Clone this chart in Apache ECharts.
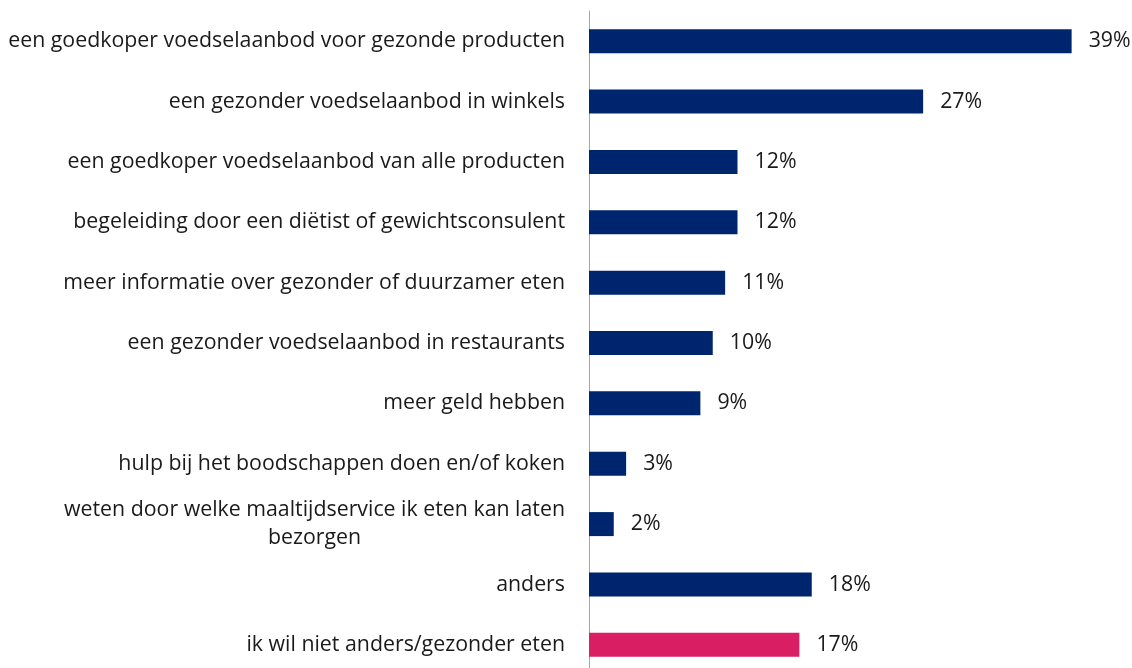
<!DOCTYPE html>
<html>
<head>
<meta charset="utf-8">
<script src="https://cdn.jsdelivr.net/npm/echarts@6/dist/echarts.min.js"></script>
<style>
  html, body { margin: 0; padding: 0; background: #ffffff; overflow: hidden; }
  /* the last row runs slightly past the bottom edge of the page */
  #chart { width: 1132px; height: 675px; }
</style>
</head>
<body>
<div id="chart"></div>
<script>
// Answers, top to bottom
const categories = [
  'een goedkoper voedselaanbod voor gezonde producten',
  'een gezonder voedselaanbod in winkels',
  'een goedkoper voedselaanbod van alle producten',
  'begeleiding door een diëtist of gewichtsconsulent',
  'meer informatie over gezonder of duurzamer eten',
  'een gezonder voedselaanbod in restaurants',
  'meer geld hebben',
  'hulp bij het boodschappen doen en/of koken',
  'weten door welke maaltijdservice ik eten kan laten\nbezorgen',
  'anders',
  'ik wil niet anders/gezonder eten'
];
// Share of respondents, percent
const values = [39, 27, 12, 12, 11, 10, 9, 3, 2, 18, 17];
// The last answer is highlighted
const highlighted = [false, false, false, false, false, false, false, false, false, false, true];

const NAVY = '#00256f';
const PINK = '#d91e63';
const FONT = '"Open Sans", sans-serif';
const TEXT = '#1a1a1a';
const SIZE = 21.33;

const chart = echarts.init(document.getElementById('chart'), null, { renderer: 'canvas' });

const seriesData = values.map((v, i) => ({
  value: v,
  itemStyle: { color: highlighted[i] ? PINK : NAVY }
}));

chart.setOption({
  animation: false,
  grid: { left: 589, top: 11, bottom: 0, right: 48, containLabel: false },
  xAxis: {
    type: 'value',
    min: 0,
    max: 40,
    show: false
  },
  yAxis: {
    type: 'category',
    inverse: true,
    data: categories,
    axisLine: { show: true, lineStyle: { color: '#a6a6a6', width: 1 } },
    axisTick: { show: false },
    axisLabel: {
      margin: 24,
      fontFamily: FONT,
      fontSize: SIZE,
      color: TEXT,
      lineHeight: 28,
      formatter: function (txt) {
        return txt.split('\n').map(l => '{c|' + l + '}').join('\n');
      },
      rich: {
        c: { align: 'center', fontFamily: FONT, fontSize: SIZE, color: TEXT, lineHeight: 28 }
      }
    }
  },
  series: [{
    type: 'bar',
    data: seriesData,
    barWidth: 24,
    label: {
      show: true,
      position: 'right',
      distance: 17,
      formatter: '{c}%',
      fontFamily: FONT,
      fontSize: SIZE,
      color: TEXT
    }
  }]
});
</script>
</body>
</html>
